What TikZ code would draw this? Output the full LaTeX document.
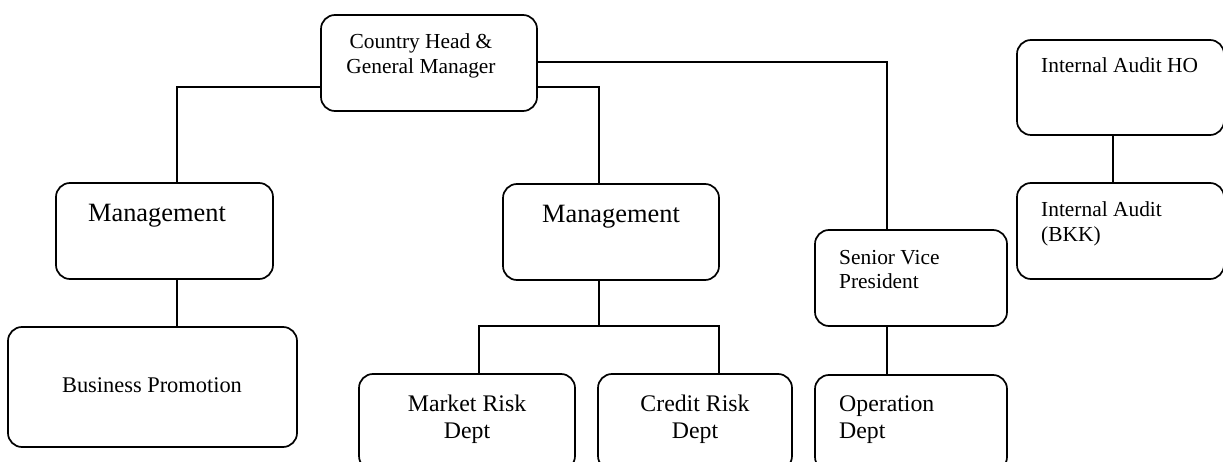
\documentclass[tikz,border=0pt]{standalone}
\usepackage{fontspec}
\setmainfont{Liberation Serif}
\begin{document}
\begin{tikzpicture}[x=1pt,y=-1pt,
  box/.style={draw=black, line width=1.7pt, rounded corners=14pt, inner sep=0pt},
  conn/.style={draw=black, line width=1.7pt},
  txt/.style={inner sep=0pt, font=\fontsize{21.4}{24.5}\selectfont},
  txtbig/.style={inner sep=0pt, font=\fontsize{26.4}{30}\selectfont},
  txtmid/.style={inner sep=0pt, font=\fontsize{23.8}{27.5}\selectfont}]
\useasboundingbox (0,0) rectangle (1223,462);
\clip (0,0) rectangle (1223,462);
\fill[white] (0,0) rectangle (1223,462);
% boxes
\node[box, minimum width=216pt, minimum height=96pt] (ch) at (429,63) {};
\node[box, minimum width=217pt, minimum height=96pt] (m1) at (164.5,231) {};
\node[box, minimum width=289pt, minimum height=120pt] (bp) at (152.5,387) {};
\node[box, minimum width=216pt, minimum height=96pt] (m2) at (611,232) {};
\node[box, minimum width=216pt, minimum height=96pt] (mr) at (467,422) {};
\node[box, minimum width=194pt, minimum height=96pt] (cr) at (695,422) {};
\node[box, minimum width=192pt, minimum height=96pt] (svp) at (911,278) {};
\node[box, minimum width=192pt, minimum height=96pt] (op) at (911,423) {};
\node[box, minimum width=207pt, minimum height=95pt] (ia) at (1120.5,87.5) {};
\node[box, minimum width=207pt, minimum height=96pt] (bkk) at (1120.5,231) {};
% texts (multi-line nodes: base anchor is the last line)
\node[txt, anchor=base, align=center] (tch) at (421,73.5) {Country Head \&\\General Manager};
\node[txtbig, anchor=base] (tm1) at (157,222) {Management};
\node[txtbig, anchor=base] (tm2) at (611,223) {Management};
\node[inner sep=0pt, font=\fontsize{22.4}{26}\selectfont, anchor=base] (tbp) at (152,392) {Business Promotion};
\node[txtmid, anchor=base, align=center] (tmr) at (467,438.5) {Market Risk\\Dept};
\node[txtmid, anchor=base, align=center] (tcr) at (695,438.5) {Credit Risk\\Dept};
\node[txt, anchor=base west, align=left] (tsvp) at (839,288.5) {Senior Vice\\President};
\node[txtmid, anchor=base west, align=left] (top) at (839,438.5) {Operation\\Dept};
\node[txt, anchor=base west] (tia) at (1041,73) {Internal Audit HO};
\node[txt, anchor=base west, align=left] (tbkk) at (1041,241.5) {Internal Audit\\(BKK)};
% connectors
\coordinate (j1) at (177,87);
\coordinate (j2) at (599,87);
\coordinate (j3) at (599,326);
\coordinate (j4) at (479,326);
\coordinate (j5) at (719,326);
\coordinate (j6) at (887,62);
\coordinate (j7) at (1113,0);
\draw[conn] (ch.west |- j1) -| (j1 |- m1.north);
\draw[conn] (j1 |- m1.south) -- (j1 |- bp.north);
\draw[conn] (ch.east |- j2) -| (j2 |- m2.north);
\draw[conn] (j2 |- m2.south) -- (j3);
\draw[conn] (j4 |- mr.north) |- (j5) -- (j5 |- cr.north);
\draw[conn] (ch.east |- j6) -| (j6 |- svp.north);
\draw[conn] (j6 |- svp.south) -- (j6 |- op.north);
\draw[conn] (j7 |- ia.south) -- (j7 |- bkk.north);
\end{tikzpicture}
\end{document}
